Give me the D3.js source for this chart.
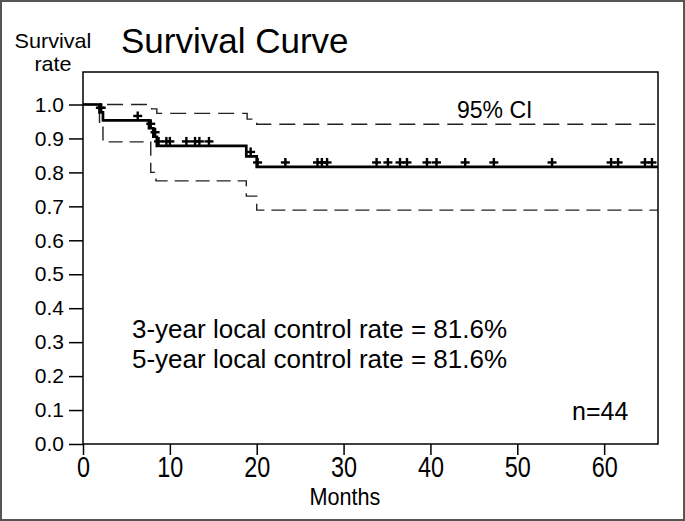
<!DOCTYPE html>
<html><head><meta charset="utf-8">
<script src="https://cdn.jsdelivr.net/npm/d3@7"></script>
<style>body{margin:0;background:#fff}svg{display:block}text{font-family:"Liberation Sans",Arial,sans-serif;fill:#000}</style>
</head><body>
<svg id="c" width="685" height="521"></svg>
<script>
// Kaplan-Meier estimate (step times in months, survival after step)
const kmTimes = [0, 1.9, 2.3, 7.6, 8.1, 8.5, 18.8, 20.0];
const kmSurv  = [1.0, 0.977, 0.953, 0.930, 0.905, 0.878, 0.847, 0.816];
// 95% CI bounds
const upperTimes = [0, 7.9, 8.5, 18.9, 20.0];
const upperVals  = [1.0, 0.987, 0.974, 0.957, 0.942];
const lowerTimes = [0, 1.9, 2.3, 7.8, 8.4, 18.8, 20.0];
const lowerVals  = [1.0, 0.94, 0.89, 0.80, 0.775, 0.73, 0.689];
// censored observations (months)
const censorTimes = [2.0, 2.1, 6.3, 7.8, 8.3, 8.7, 9.6, 10.0, 11.9, 12.9, 13.4, 14.5,
  19.3, 20.1, 23.3, 27.0, 27.5, 28.1, 33.8, 35.1, 36.5, 37.3, 39.6, 40.7, 44.0, 47.3,
  54.0, 60.8, 61.6, 64.7, 65.5];
const xTicks = [0, 10, 20, 30, 40, 50, 60];
const yTicks = [0, 0.1, 0.2, 0.3, 0.4, 0.5, 0.6, 0.7, 0.8, 0.9, 1.0];
const xMax = 66.2;

const svg = d3.select("#c");
const x = d3.scaleLinear().domain([0, xMax]).range([83, 658]);
const y = d3.scaleLinear().domain([0, 1]).range([444, 104.5]);

// outer frame
svg.append("rect").attr("x", 1).attr("y", 1).attr("width", 683).attr("height", 519)
  .attr("fill", "none").attr("stroke", "#555").attr("stroke-width", 2);

// axes
const ya = svg.append("g").attr("transform", "translate(83,0)")
  .call(d3.axisLeft(y).tickValues(yTicks).tickSize(14).tickPadding(5).tickFormat(d3.format(".1f")));
ya.select(".domain").remove();
ya.selectAll("line").attr("stroke", "#000").attr("stroke-width", 1.5);
ya.selectAll("text").style("font-size", "21px").attr("font-family", null);

const xa = svg.append("g").attr("transform", "translate(0,444)")
  .call(d3.axisBottom(x).tickValues(xTicks).tickSize(11).tickPadding(0).tickFormat(d3.format("d")));
xa.select(".domain").remove();
xa.selectAll("line").attr("stroke", "#000").attr("stroke-width", 1.5);
xa.selectAll("text").style("font-size", "30px").attr("font-family", null)
  .attr("dy", null).attr("y", 33).attr("transform", "scale(0.78,1)");

// plot box
svg.append("rect").attr("x", 83).attr("y", 72).attr("width", 575).attr("height", 372)
  .attr("fill", "none").attr("stroke", "#000").attr("stroke-width", 1.5);

function stepData(ts, vs) {
  const d = ts.map((t, i) => [t, vs[i]]);
  d.push([xMax, vs[vs.length - 1]]);
  return d;
}
const line = d3.line().x(d => x(d[0])).y(d => y(d[1])).curve(d3.curveStepAfter);

svg.append("path").attr("d", line(stepData(upperTimes, upperVals)))
  .attr("fill", "none").attr("stroke", "#222").attr("stroke-width", 1.4).attr("stroke-dasharray", "16,8");
svg.append("path").attr("d", line(stepData(lowerTimes, lowerVals)))
  .attr("fill", "none").attr("stroke", "#222").attr("stroke-width", 1.4).attr("stroke-dasharray", "14,7");
svg.append("path").attr("d", line(stepData(kmTimes, kmSurv)))
  .attr("fill", "none").attr("stroke", "#000").attr("stroke-width", 2.7);

// censor marks
function survAt(t) {
  let s = kmSurv[0];
  kmTimes.forEach((kt, i) => { if (kt <= t) s = kmSurv[i]; });
  return s;
}
const cm = svg.append("g").attr("stroke", "#000").attr("stroke-width", 2.4);
censorTimes.forEach(t => {
  const cx = x(t), cy = y(survAt(t));
  cm.append("line").attr("x1", cx).attr("x2", cx).attr("y1", cy - 9).attr("y2", cy);
  cm.append("line").attr("x1", cx - 4.5).attr("x2", cx + 4.5).attr("y1", cy - 4.5).attr("y2", cy - 4.5);
});

// texts
svg.append("text").attr("x", 121).attr("y", 53).style("font-size", "35px").text("Survival Curve");
svg.append("text").attr("x", 53).attr("y", 48).attr("text-anchor", "middle").style("font-size", "20px")
  .attr("transform", "translate(53,0) scale(1.08,1) translate(-53,0)").text("Survival");
svg.append("text").attr("x", 53).attr("y", 71).attr("text-anchor", "middle").style("font-size", "20px")
  .attr("transform", "translate(53,0) scale(1.08,1) translate(-53,0)").text("rate");
svg.append("text").attr("x", 345).attr("y", 505).attr("text-anchor", "middle").style("font-size", "23px")
  .attr("transform", "translate(345,0) scale(0.94,1) translate(-345,0)").text("Months");
svg.append("text").attr("x", 457).attr("y", 118).style("font-size", "23px").text("95% CI");
svg.append("text").attr("x", 132).attr("y", 338).style("font-size", "26px").text("3-year local control rate = 81.6%");
svg.append("text").attr("x", 132).attr("y", 368).style("font-size", "26px").text("5-year local control rate = 81.6%");
svg.append("text").attr("x", 572).attr("y", 420).style("font-size", "25px").text("n=44");
</script>
</body></html>
